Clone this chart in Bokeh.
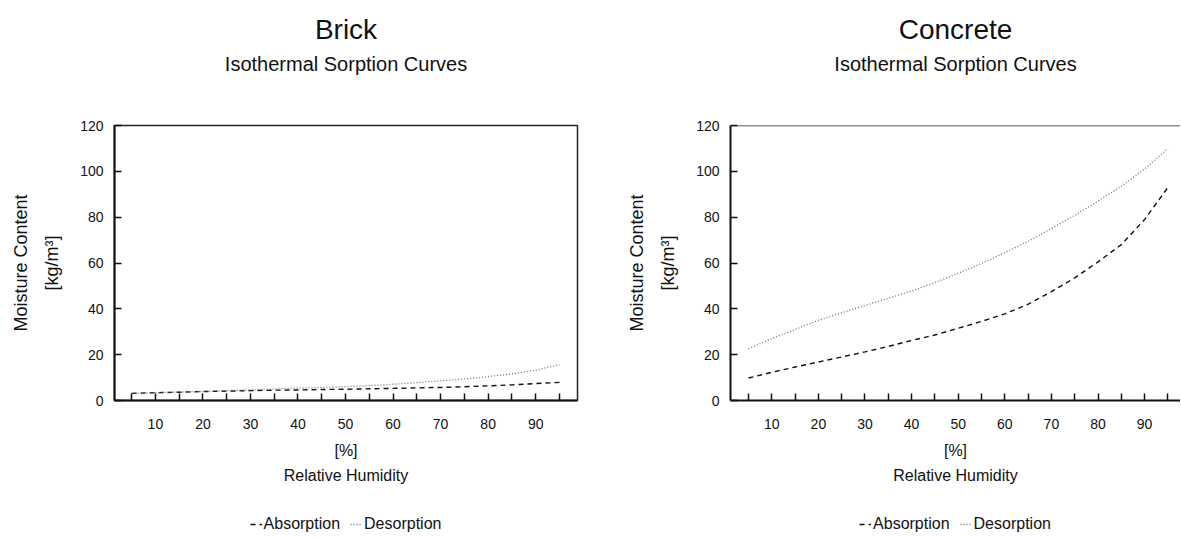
from bokeh.plotting import figure
from bokeh.models import (FixedTicker, Title, Legend, LegendItem, Range1d, Span,
                          Label)
from bokeh.layouts import row, column
from bokeh.embed import file_html
from bokeh.resources import INLINE

# ---------------- data ----------------
materials = ["Brick", "Concrete"]
subtitle = "Isothermal Sorption Curves"
x_label = "[%]"
x_title = "Relative Humidity"
y_label = "[kg/m³]"
y_title = "Moisture Content"
series_names = ["Absorption", "Desorption"]

rh = [5, 10, 15, 20, 25, 30, 35, 40, 45, 50, 55, 60, 65, 70, 75, 80, 85, 90, 95]

brick_absorption = [3.1, 3.4, 3.6, 3.9, 4.1, 4.3, 4.5, 4.6, 4.8, 4.9,
                    5.1, 5.3, 5.5, 5.7, 6.0, 6.4, 6.8, 7.4, 7.9]
brick_desorption = [3.1, 3.4, 3.7, 4.0, 4.3, 4.7, 5.0, 5.4, 5.7, 6.1,
                    6.5, 7.1, 7.8, 8.6, 9.4, 10.4, 11.6, 13.2, 15.7]

concrete_absorption = [9.8, 12.3, 14.6, 16.8, 19.0, 21.2, 23.6, 26.2, 28.6, 31.5,
                       34.5, 37.8, 42.0, 47.5, 53.5, 60.5, 68.0, 79.0, 93.0]
concrete_desorption = [22.6, 27.0, 31.0, 35.0, 38.3, 41.5, 44.6, 47.8, 51.5, 55.5,
                       59.8, 64.5, 69.5, 75.0, 80.8, 87.0, 93.5, 101.0, 110.0]

x_major_ticks = [10, 20, 30, 40, 50, 60, 70, 80, 90]
x_minor_ticks = [5, 15, 25, 35, 45, 55, 65, 75, 85, 95]
y_ticks = [0, 20, 40, 60, 80, 100, 120]

FONT = "Liberation Sans"
INK = "#111111"
ABS_STYLE = dict(line_color=INK, line_width=1.4, line_dash="5 4")
DES_STYLE = dict(line_color="#707070", line_width=1.3, line_dash="1 2")

TITLE_H = 80
CHART_H = 421
LEGEND_H = 36


def strip(width, border_left, border_right, height):
    s = figure(width=width, height=height, title=None,
               output_backend="svg", toolbar_location=None,
               x_axis_location=None, y_axis_location=None,
               x_range=Range1d(0, 1), y_range=Range1d(0, height),
               min_border_left=border_left, min_border_right=border_right,
               min_border_top=0, min_border_bottom=0)
    s.grid.visible = False
    s.outline_line_color = None
    s.background_fill_color = "white"
    s.border_fill_color = "white"
    return s


def make_titles(material, width, border_left, border_right):
    t = strip(width, border_left, border_right, TITLE_H)
    t.add_layout(Label(x=0.5, y=TITLE_H - 29, text=material,
                       text_align="center", text_baseline="middle",
                       text_font=FONT, text_font_size="28px", text_color=INK))
    t.add_layout(Label(x=0.5, y=TITLE_H - 63, text=subtitle,
                       text_align="center", text_baseline="middle",
                       text_font=FONT, text_font_size="20px", text_color=INK))
    return t


def make_chart(absorption, desorption, width, border_left, border_right,
               x_start, x_end, full_outline):
    p = figure(width=width, height=CHART_H, title=None,
               output_backend="svg", toolbar_location=None,
               x_range=Range1d(x_start, x_end), y_range=Range1d(0, 120),
               min_border_left=border_left, min_border_right=border_right,
               min_border_top=45, min_border_bottom=101)
    p.grid.visible = False
    p.background_fill_color = "white"
    p.border_fill_color = "white"
    if full_outline:
        p.outline_line_color = "#222222"
        p.outline_line_width = 1.5
    else:
        p.outline_line_color = None
        p.add_layout(Span(location=120, dimension="width",
                          line_color="#222222", line_width=1.5))

    # x axis
    xa = p.xaxis[0]
    xa.ticker = FixedTicker(ticks=x_major_ticks, minor_ticks=x_minor_ticks)
    xa.axis_line_width = 2
    xa.axis_line_color = INK
    xa.major_tick_in = 7
    xa.major_tick_out = 0
    xa.minor_tick_in = 7
    xa.minor_tick_out = 0
    xa.major_tick_line_width = 1.5
    xa.minor_tick_line_width = 1.5
    xa.major_tick_line_color = INK
    xa.minor_tick_line_color = INK
    xa.major_label_text_font = FONT
    xa.major_label_text_font_size = "14px"
    xa.major_label_text_color = INK
    xa.major_label_standoff = 18
    xa.axis_label = x_label
    xa.axis_label_text_font = FONT
    xa.axis_label_text_font_size = "16px"
    xa.axis_label_text_font_style = "normal"
    xa.axis_label_text_color = INK
    xa.axis_label_standoff = 10

    # y axis
    ya = p.yaxis[0]
    ya.ticker = FixedTicker(ticks=y_ticks)
    ya.axis_line_width = 2
    ya.axis_line_color = INK
    ya.major_tick_in = 7
    ya.major_tick_out = 0
    ya.major_tick_line_width = 1.5
    ya.major_tick_line_color = INK
    ya.minor_tick_line_color = None
    ya.major_label_text_font = FONT
    ya.major_label_text_font_size = "14px"
    ya.major_label_text_color = INK
    ya.major_label_standoff = 11
    ya.axis_label = y_label
    ya.axis_label_text_font = FONT
    ya.axis_label_text_font_size = "18px"
    ya.axis_label_text_font_style = "normal"
    ya.axis_label_text_color = INK
    ya.axis_label_standoff = 15

    # curves
    p.line(rh, absorption, **ABS_STYLE)
    p.line(rh, desorption, **DES_STYLE)

    # outer axis titles
    p.add_layout(Title(text=y_title, align="center", text_font=FONT,
                       text_font_size="18px", text_font_style="normal",
                       text_color=INK, standoff=17), "left")
    p.add_layout(Title(text=x_title, align="center", text_font=FONT,
                       text_font_size="16px", text_font_style="normal",
                       text_color=INK, standoff=7), "below")
    return p


def make_legend(absorption, desorption, width, border_left, border_right):
    # legend strip under the chart; proxy lines lie outside the visible range
    lf = strip(width, border_left, border_right, LEGEND_H)
    r_abs = lf.line(rh, [v + 1000 for v in absorption], **ABS_STYLE)
    r_des = lf.line(rh, [v + 1000 for v in desorption], **DES_STYLE)
    legend = Legend(items=[LegendItem(label=series_names[0], renderers=[r_abs]),
                           LegendItem(label=series_names[1], renderers=[r_des])],
                    orientation="horizontal", location="bottom_center",
                    label_text_font=FONT, label_text_font_size="16px",
                    label_text_color=INK,
                    glyph_width=12, glyph_height=14, label_standoff=2,
                    spacing=10, padding=2, margin=4,
                    border_line_color=None, background_fill_alpha=0)
    lf.add_layout(legend, "center")
    return lf


W1, W2 = 600, 580
B1L, B1R = 114, 23
B2L, B2R = 130, 0

t1 = make_titles(materials[0], W1, B1L, B1R)
p1 = make_chart(brick_absorption, brick_desorption, W1, B1L, B1R,
                x_start=1.4, x_end=98.8, full_outline=True)
l1 = make_legend(brick_absorption, brick_desorption, W1, B1L, B1R)

t2 = make_titles(materials[1], W2, B2L, B2R)
p2 = make_chart(concrete_absorption, concrete_desorption, W2, B2L, B2R,
                x_start=1.14, x_end=97.7, full_outline=False)
l2 = make_legend(concrete_absorption, concrete_desorption, W2, B2L, B2R)

layout = row(column(t1, p1, l1), column(t2, p2, l2))
open("out.html", "w").write(file_html(layout, INLINE))
